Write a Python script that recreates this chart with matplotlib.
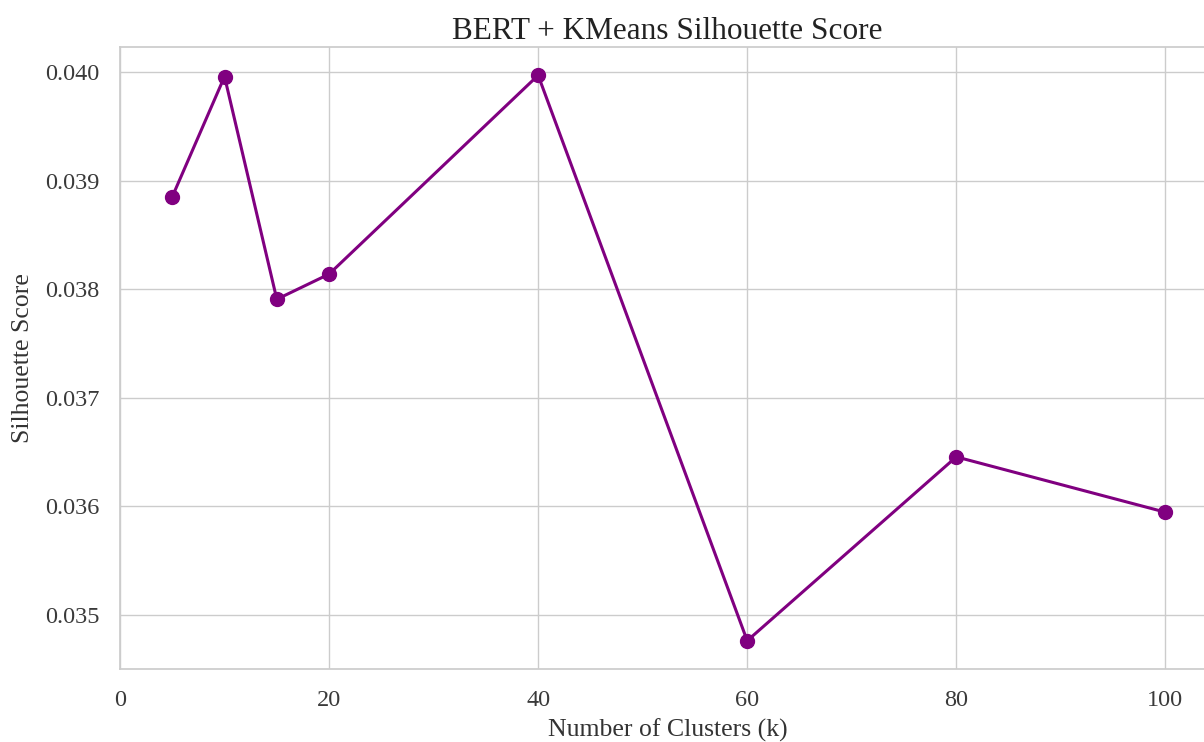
import matplotlib
matplotlib.use("Agg")
import matplotlib.pyplot as plt
import seaborn as sns

# cluster counts and silhouette scores for BERT embeddings + KMeans
k_values = [5, 10, 15, 20, 40, 60, 80, 100]
sil_scores = [0.038852, 0.039960, 0.037907, 0.038139, 0.039972, 0.034759, 0.036454, 0.035944]

sns.set_theme(style="whitegrid")
plt.rcParams['font.family'] = ['Liberation Serif', 'DejaVu Serif']

fig = plt.figure(figsize=(12.04, 7.42), dpi=100)
# plot area runs off the right edge of the canvas
ax = fig.add_axes([120 / 1204, 73 / 742, 1095 / 1204, 622 / 742])

ax.plot(k_values, sil_scores, marker="o", color="purple", linewidth=2.2, markersize=10)

ax.set_title("BERT + KMeans Silhouette Score", fontsize=22.5, color="#222222", pad=6)
ax.set_xlabel("Number of Clusters (k)", fontsize=18.5, color="#333333", labelpad=5.5)
ax.set_ylabel("Silhouette Score", fontsize=18.5, color="#333333", labelpad=8)
ax.tick_params(labelsize=17.5, colors="#3a3a3a", pad=9)
ax.set_xticks([0, 20, 40, 60, 80, 100])
ax.set_yticks([0.035, 0.036, 0.037, 0.038, 0.039, 0.040])
ax.yaxis.set_major_formatter(matplotlib.ticker.FormatStrFormatter("%.3f"))

fig.savefig("out.png", dpi=100)
